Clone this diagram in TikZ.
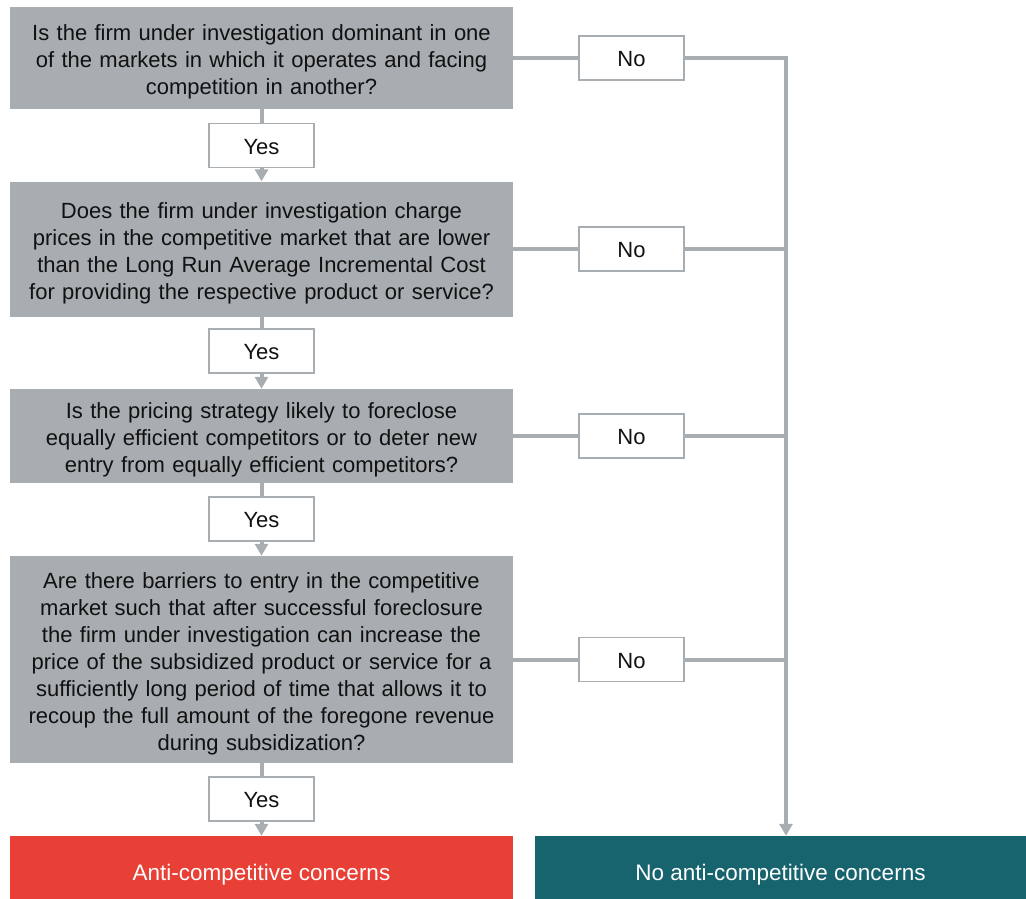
\documentclass[tikz,border=0pt]{standalone}
\usepackage{fontspec}
\setmainfont{Liberation Sans}
\usetikzlibrary{arrows.meta}
\definecolor{boxgray}{HTML}{A7ADB0}
\definecolor{alarm}{HTML}{E84036}
\definecolor{calm}{HTML}{17636E}
\definecolor{ink}{HTML}{111111}

\begin{document}
\begin{tikzpicture}[x=1pt,y=-1pt,
  question/.style={fill=boxgray, inner sep=0pt, minimum width=503pt,
    text width=500pt, align=center, text=ink, text height=24pt,
    font=\fontsize{22}{27}\selectfont},
  answer/.style={draw=boxgray, line width=1.5pt, fill=white,
    minimum width=105pt, minimum height=44pt, inner sep=0pt,
    text height=17.5pt, text depth=0pt,
    text=ink, font=\fontsize{22}{24}\selectfont},
  verdict/.style={inner sep=0pt, minimum height=63pt, text=white,
    text height=28pt, text depth=2.8pt,
    font=\fontsize{22.5}{24}\selectfont},
  link/.style={draw=boxgray, line width=4pt},
  flow/.style={link, -{Triangle[width=13pt,length=12pt]}}]

\useasboundingbox (0,0) rectangle (1026,899);

% questions
\node[question, minimum height=101pt] (q1) at (261.5,58)
  {Is the firm under investigation dominant in one\\
   of the markets in which it operates and facing\\
   competition in another?};
\node[question, minimum height=135pt] (q2) at (261.5,249)
  {Does the firm under investigation charge\\
   prices in the competitive market that are lower\\
   than the Long Run Average Incremental Cost\\
   for providing the respective product or service?};
\node[question, minimum height=94pt] (q3) at (261.5,436)
  {Is the pricing strategy likely to foreclose\\
   equally efficient competitors or to deter new\\
   entry from equally efficient competitors?};
\node[question, minimum height=207pt] (q4) at (261.5,659.5)
  {Are there barriers to entry in the competitive\\
   market such that after successful foreclosure\\
   the firm under investigation can increase the\\
   price of the subsidized product or service for a\\
   sufficiently long period of time that allows it to\\
   recoup the full amount of the foregone revenue\\
   during subsidization?};

% outcomes
\node[verdict, fill=alarm, minimum width=503pt] (bad) at (261.5,867.5)
  {Anti-competitive concerns};
\node[verdict, fill=calm, minimum width=491pt] (good) at (780.5,867.5)
  {No anti-competitive concerns};

% yes branch
\node[answer] (y1) at (261.5,145.5) {Yes};
\node[answer] (y2) at (261.5,351) {Yes};
\node[answer] (y3) at (261.5,519) {Yes};
\node[answer] (y4) at (261.5,799) {Yes};

\draw[link] (q1.south) -- (y1.north);
\draw[flow] (y1.south) -- (q2.north);
\draw[link] (q2.south) -- (y2.north);
\draw[flow] (y2.south) -- (q3.north);
\draw[link] (q3.south) -- (y3.north);
\draw[flow] (y3.south) -- (q4.north);
\draw[link] (q4.south) -- (y4.north);
\draw[flow] (y4.south) -- (bad.north);

% no branch
\node[answer] (n1) at (631.5,58) {No};
\node[answer] (n2) at (631.5,249) {No};
\node[answer] (n3) at (631.5,436) {No};
\node[answer] (n4) at (631.5,659.5) {No};

\coordinate (rail) at (786,58);

\draw[link] (q1.east) -- (n1.west);
\draw[link] (q2.east) -- (n2.west);
\draw[link] (q3.east) -- (n3.west);
\draw[link] (q4.east) -- (n4.west);

\draw[flow] (n1.east) -- (rail) -- (rail |- good.north);
\draw[link] (n2.east) -- (n2.east -| rail);
\draw[link] (n3.east) -- (n3.east -| rail);
\draw[link] (n4.east) -- (n4.east -| rail);
\end{tikzpicture}
\end{document}
